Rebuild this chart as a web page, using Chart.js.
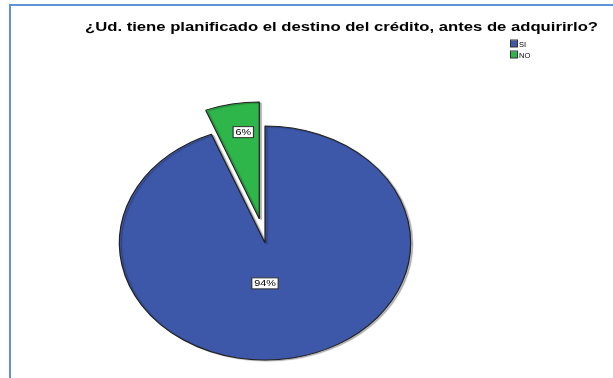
<!DOCTYPE html>
<html><head><meta charset="utf-8">
<script src="https://cdn.jsdelivr.net/npm/chart.js@4.4.0/dist/chart.umd.min.js"></script>
<style>
html,body{margin:0;padding:0;background:#fff;}
#wrap{position:relative;width:613px;height:378px;overflow:hidden;background:#fff;}
#frame{position:absolute;left:9px;top:4px;right:-10px;bottom:-10px;border-top:2px solid #5f92d6;border-left:2px solid #5f92d6;}
canvas{position:absolute;left:0;top:0;}
</style></head><body>
<div id="wrap"><div id="frame"></div><canvas id="c" width="613" height="378"></canvas></div>
<script>
const chartTitle = "¿Ud. tiene planificado el destino del crédito, antes de adquirirlo?";
const categories = ["SI", "NO"];
const percentages = [94, 6];
const percentLabels = ["94%", "6%"];
const sliceColors = ["#3d57a9", "#2fb64a"];

const SX = 1.245;          // horizontal stretch -> elliptical pie
const EXPLODE = [0, 24.5]; // px the slice is pulled out
const LABEL_ANGLE_FRAC = [0.532, 0.61];
const LABEL_RADIUS_FRAC = [0.345, 0.75];
const FONT = '"Liberation Sans", Arial, sans-serif';

function drawBoxLabel(ctx, text, x, y) {
  ctx.save();
  ctx.font = '9px ' + FONT;
  ctx.translate(x, y);
  ctx.scale(1.2, 1);
  const w = ctx.measureText(text).width + 4;
  const h = 11;
  ctx.fillStyle = '#ffffff';
  ctx.fillRect(-w / 2, -h / 2, w, h);
  ctx.strokeStyle = '#333333';
  ctx.lineWidth = 1;
  ctx.strokeRect(-w / 2, -h / 2, w, h);
  ctx.fillStyle = '#000000';
  ctx.textAlign = 'center';
  ctx.textBaseline = 'middle';
  ctx.fillText(text, 0, 0.5);
  ctx.restore();
}

const ellipsePlugin = {
  id: 'ellipse',
  beforeDatasetsDraw(chart) {
    const arcs = chart.getDatasetMeta(0).data;
    const ctx = chart.ctx;
    arcs.forEach((a, i) => {
      const mid = (a.startAngle + a.endAngle) / 2;
      ctx.save();
      ctx.translate(a.x, a.y);
      ctx.scale(SX, 1);
      ctx.translate(-a.x, -a.y);
      ctx.translate(Math.cos(mid) * EXPLODE[i], Math.sin(mid) * EXPLODE[i]);
      ctx.shadowColor = 'rgba(0,0,0,0.25)';
      ctx.shadowOffsetX = 2;
      ctx.shadowOffsetY = 1;
      ctx.shadowBlur = 1;
      a.draw(ctx);
      ctx.restore();
    });
    return false;
  },
  afterDraw(chart) {
    const ctx = chart.ctx;
    const arcs = chart.getDatasetMeta(0).data;
    arcs.forEach((a, i) => {
      const mid = (a.startAngle + a.endAngle) / 2;
      const ang = a.startAngle + LABEL_ANGLE_FRAC[i] * (a.endAngle - a.startAngle);
      const r = LABEL_RADIUS_FRAC[i] * a.outerRadius;
      const x = a.x + (Math.cos(ang) * r + Math.cos(mid) * EXPLODE[i]) * SX;
      const y = a.y + Math.sin(ang) * r + Math.sin(mid) * EXPLODE[i];
      drawBoxLabel(ctx, percentLabels[i], x, y);
    });

    // Title (stretched like the original)
    ctx.save();
    ctx.font = 'bold 12px ' + FONT;
    const tw = ctx.measureText(chartTitle).width;
    const target = 513;
    ctx.translate(85, 31);
    ctx.scale(target / tw, 1);
    ctx.fillStyle = '#000';
    ctx.textAlign = 'left';
    ctx.textBaseline = 'alphabetic';
    ctx.fillText(chartTitle, 0, 0);
    ctx.restore();

    // Legend
    ctx.save();
    ctx.font = '7.5px ' + FONT;
    ctx.textBaseline = 'alphabetic';
    categories.forEach((c, i) => {
      const y = 40.5 + i * 11;
      ctx.fillStyle = sliceColors[i];
      ctx.fillRect(511, y, 6.5, 6.5);
      ctx.strokeStyle = '#333';
      ctx.lineWidth = 1;
      ctx.strokeRect(510.5, y - 0.5, 7, 7);
      ctx.fillStyle = '#000';
      ctx.fillText(c, 519, y + 6.3);
    });
    ctx.restore();
  }
};

new Chart(document.getElementById('c'), {
  type: 'pie',
  data: {
    labels: categories,
    datasets: [{
      data: percentages,
      backgroundColor: sliceColors,
      borderColor: '#222222',
      borderWidth: 1
    }]
  },
  options: {
    responsive: false,
    animation: false,
    radius: 117,
    layout: { padding: { left: 0, right: 83, top: 108, bottom: 0 } },
    plugins: { legend: { display: false }, tooltip: { enabled: false }, title: { display: false } }
  },
  plugins: [ellipsePlugin]
});
</script>
</body></html>
